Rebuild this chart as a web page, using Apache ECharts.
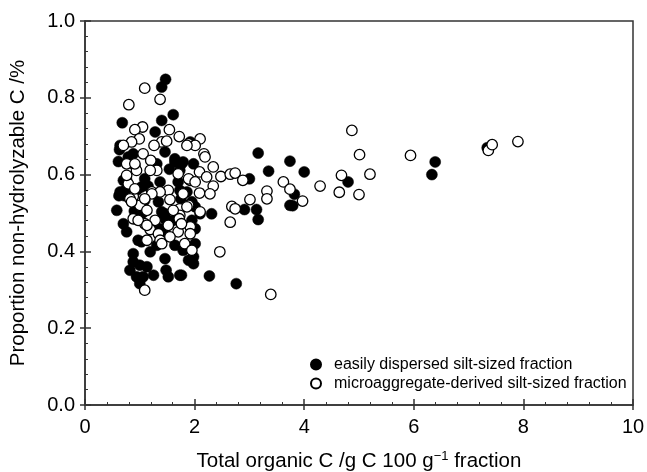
<!DOCTYPE html>
<html>
<head>
<meta charset="utf-8">
<script src="https://cdn.jsdelivr.net/npm/echarts@6/dist/echarts.min.js"></script>
<style>html,body{margin:0;padding:0;background:#fff}#c{width:647px;height:472px}</style>
</head>
<body>
<div id="c"></div>
<script>
// Easily dispersed silt-sized fraction (filled circles)
var dispersedX = [1.47,1.40,1.61,0.68,1.40,1.28,1.92,0.63,0.88,1.46,1.64,0.61,0.91,1.31,1.54,1.73,3.16,1.79,1.98,3.35,3.00,0.76,1.09,1.37,1.70,1.86,0.73,1.73,1.75,1.95,3.74,2.91,3.13,3.16,2.31,2.10,1.95,1.43,0.58,1.46,0.70,0.76,0.97,1.64,1.31,2.01,2.01,0.88,1.19,0.88,1.00,1.13,1.46,1.89,1.98,0.82,0.94,1.06,1.25,1.48,1.52,1.73,1.76,2.27,2.76,1.00,3.74,4.00,3.82,3.79,4.80,6.39,6.33,7.34,0.72,0.95,1.15,1.60,1.68,0.90,1.05,0.62,
  0.64,0.79,1.64,1.76,0.70,0.64,1.03,1.09,1.34,1.40,1.46,2.01,1.37,1.46,1.79,1.98,1.03];
var dispersedY = [0.848,0.828,0.756,0.735,0.741,0.711,0.685,0.665,0.654,0.659,0.641,0.634,0.624,0.628,0.614,0.611,0.656,0.633,0.628,0.609,0.589,0.585,0.589,0.581,0.581,0.555,0.559,0.559,0.537,0.529,0.520,0.509,0.509,0.483,0.498,0.498,0.481,0.494,0.507,0.498,0.472,0.451,0.429,0.416,0.416,0.459,0.420,0.394,0.399,0.373,0.364,0.360,0.381,0.377,0.368,0.351,0.334,0.334,0.338,0.351,0.334,0.338,0.338,0.336,0.316,0.316,0.635,0.607,0.549,0.519,0.581,0.633,0.600,0.670,0.545,0.560,0.570,0.480,0.500,0.505,0.500,0.545,
  0.676,0.646,0.633,0.628,0.585,0.555,0.568,0.533,0.529,0.503,0.485,0.516,0.459,0.446,0.403,0.386,0.425];
// Microaggregate-derived silt-sized fraction (open circles)
var microX = [1.09,1.37,0.80,1.05,0.91,1.54,1.72,0.99,0.85,0.70,1.40,1.49,1.26,1.89,1.06,1.20,0.76,0.94,1.31,0.79,1.52,1.22,1.37,0.88,0.82,1.00,1.22,1.55,1.73,0.88,1.09,1.28,1.52,1.73,1.19,1.34,1.70,1.13,1.37,1.55,1.82,1.09,2.10,2.01,2.17,2.19,2.34,2.09,2.48,2.65,2.74,2.88,2.22,1.92,3.62,2.34,2.09,2.28,1.79,3.32,3.32,3.01,2.68,2.74,2.65,1.72,1.92,1.92,1.95,2.46,3.39,4.87,5.01,5.94,7.36,7.43,7.90,5.20,4.68,4.29,4.64,5.00,3.74,3.97,
  0.91,0.76,1.19,1.70,1.89,2.01,0.91,0.85,1.09,1.89,1.13,1.61,1.86,2.10,0.97,1.13,1.76,1.40,1.86];
var microY = [0.825,0.796,0.782,0.724,0.717,0.717,0.699,0.693,0.685,0.676,0.685,0.687,0.676,0.680,0.654,0.637,0.628,0.611,0.611,0.576,0.559,0.555,0.555,0.543,0.537,0.520,0.550,0.535,0.511,0.485,0.472,0.481,0.468,0.494,0.457,0.446,0.451,0.429,0.429,0.438,0.420,0.299,0.693,0.676,0.654,0.646,0.620,0.607,0.595,0.601,0.604,0.585,0.594,0.585,0.581,0.570,0.552,0.550,0.550,0.557,0.537,0.535,0.517,0.511,0.476,0.485,0.464,0.446,0.403,0.399,0.288,0.715,0.652,0.650,0.663,0.678,0.686,0.601,0.598,0.570,0.554,0.548,0.562,0.531,
  0.628,0.598,0.611,0.602,0.589,0.581,0.563,0.529,0.537,0.520,0.507,0.507,0.516,0.503,0.481,0.468,0.472,0.420,0.676];
var seriesNames = ['easily dispersed silt-sized fraction','microaggregate-derived silt-sized fraction'];
var xTitle = 'Total organic C /g C 100 g{sup|\u22121} fraction';
var yTitle = 'Proportion non-hydrolyzable C /%';

function pairs(xs, ys){ return xs.map(function(x,i){ return [x, ys[i]]; }); }
var FONT = '"Liberation Sans", Arial, Helvetica, sans-serif';
var chart = echarts.init(document.getElementById('c'), null, {renderer:'canvas'});
var axisCommonX = {type:'value', min:0, max:10, interval:2};
var axisCommonY = {type:'value', min:0, max:1, interval:0.2};
chart.setOption({
  animation:false,
  backgroundColor:'#fff',
  grid:{left:85, right:14, top:21, bottom:67, show:true, borderColor:'#333', borderWidth:1.5, containLabel:false, outerBoundsMode:'none'},
  legend:{
    orient:'vertical', left:305, top:351, itemWidth:10, itemHeight:10, itemGap:2,
    textStyle:{fontFamily:FONT, fontSize:16, lineHeight:17, color:'#000', padding:[0,0,0,8]},
    data:[{name:seriesNames[0], icon:'circle'},{name:seriesNames[1], icon:'circle'}]
  },
  xAxis:[
    Object.assign({}, axisCommonX, {
      position:'bottom',
      name:xTitle, nameLocation:'middle', nameGap:45,
      nameTextStyle:{fontFamily:FONT, fontSize:20.5, color:'#000',
        rich:{sup:{fontFamily:FONT, fontSize:13, color:'#000', verticalAlign:'bottom', padding:[0,0,10,0]}}},
      axisLine:{show:true, lineStyle:{color:'#333', width:1.5}},
      axisTick:{show:true, inside:true, length:6, lineStyle:{color:'#333', width:1.5}},
      minorTick:{show:true, splitNumber:5, length:3, lineStyle:{color:'#333', width:1}},
      axisLabel:{fontFamily:FONT, fontSize:20, color:'#000', margin:12},
      splitLine:{show:false}
    }),
    Object.assign({}, axisCommonX, {
      position:'bottom', gridIndex:0,
      axisLine:{show:false},
      axisTick:{show:true, inside:false, length:5, lineStyle:{color:'#333', width:1.5}},
      axisLabel:{show:false}, splitLine:{show:false}
    })
  ],
  yAxis:[
    Object.assign({}, axisCommonY, {
      position:'left',
      name:yTitle, nameLocation:'middle', nameGap:56,
      nameTextStyle:{fontFamily:FONT, fontSize:20.5, color:'#000'},
      axisLine:{show:true, lineStyle:{color:'#333', width:1.5}},
      axisTick:{show:true, inside:true, length:6, lineStyle:{color:'#333', width:1.5}},
      minorTick:{show:true, splitNumber:5, length:3, lineStyle:{color:'#333', width:1}},
      axisLabel:{fontFamily:FONT, fontSize:20, color:'#000', margin:10,
        formatter:function(v){ return v.toFixed(1); }},
      splitLine:{show:false}
    }),
    Object.assign({}, axisCommonY, {
      position:'left', gridIndex:0,
      axisLine:{show:false},
      axisTick:{show:true, inside:false, length:5, lineStyle:{color:'#333', width:1.5}},
      axisLabel:{show:false}, splitLine:{show:false}
    })
  ],
  series:[
    {name:seriesNames[0], type:'scatter', xAxisIndex:0, yAxisIndex:0, symbol:'circle', symbolSize:11,
     itemStyle:{color:'#000', borderColor:'#000', borderWidth:0.5, opacity:1},
     data:pairs(dispersedX, dispersedY)},
    {name:seriesNames[1], type:'scatter', xAxisIndex:0, yAxisIndex:0, symbol:'circle', symbolSize:10.5,
     itemStyle:{color:'#fff', borderColor:'#000', borderWidth:1.3, opacity:1},
     data:pairs(microX, microY)}
  ]
});
</script>
</body>
</html>
